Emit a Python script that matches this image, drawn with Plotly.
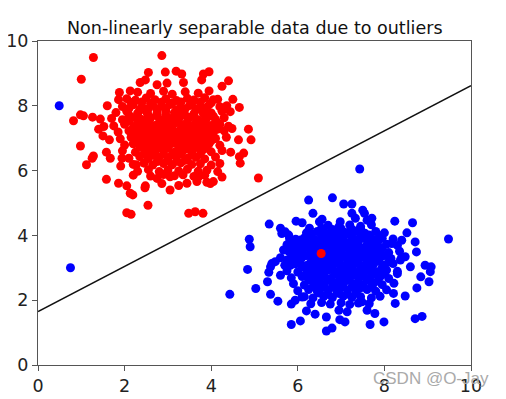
import plotly.graph_objects as go

# ---- data ----
red_edge = [
    (1.28, 9.49), (2.86, 9.55), (1.00, 8.82), (2.55, 9.03), (2.94, 9.04),
    (3.19, 9.07), (3.32, 8.98), (3.82, 8.98), (3.95, 9.05), (4.40, 8.77),
    (4.25, 8.60), (3.78, 8.80), (2.36, 8.72), (2.48, 8.80), (2.75, 8.65),
    (2.98, 8.70), (3.36, 8.72), (2.13, 8.46), (1.88, 8.41), (1.86, 8.19),
    (1.60, 8.00), (0.82, 7.54), (0.98, 7.72), (1.05, 7.69), (1.26, 7.65),
    (1.44, 7.59), (1.40, 7.28), (1.52, 7.36), (1.50, 7.07), (1.65, 6.95),
    (0.98, 6.76), (1.28, 6.45), (1.25, 6.38), (1.12, 6.18), (1.58, 5.73),
    (1.67, 6.38), (1.58, 6.57), (1.94, 6.38), (1.86, 5.61), (2.05, 5.53),
    (2.13, 5.30), (2.19, 5.25), (2.05, 4.70), (2.15, 4.65), (2.54, 4.93),
    (3.05, 5.40), (3.48, 4.68), (3.63, 4.73), (3.81, 4.68), (3.98, 5.60),
    (4.05, 5.66), (4.25, 5.80), (4.67, 6.23), (4.65, 6.43), (4.75, 6.54),
    (4.92, 6.95), (4.86, 7.28), (4.63, 6.95), (4.48, 7.30), (4.65, 7.95),
    (4.50, 8.20), (4.36, 8.00), (5.09, 5.77), (4.05, 8.19), (4.44, 7.82),
    (2.48, 5.53), (2.47, 5.47), (2.86, 5.60), (3.25, 5.54), (3.44, 5.61),
    (3.67, 5.66), (3.90, 5.64), (3.71, 5.81), (2.75, 5.76), (3.05, 5.81),
    (1.91, 6.14), (2.27, 6.18), (6.54, 3.44),
]
red_core = [
    (2.30, 8.42), (2.60, 8.38), (2.90, 8.45), (3.10, 8.36), (3.40, 8.43),
    (3.70, 8.39), (3.95, 8.46),
    (2.05, 8.22), (2.25, 8.17), (2.50, 8.24), (2.70, 8.19), (2.95, 8.21),
    (3.20, 8.16), (3.45, 8.23), (3.60, 8.18), (3.85, 8.25), (4.15, 8.20),
    (1.95, 7.98), (2.20, 8.03), (2.40, 7.97), (2.65, 8.02), (2.85, 7.99),
    (3.05, 8.04), (3.30, 7.96), (3.50, 8.01), (3.75, 7.98), (3.95, 8.03),
    (4.20, 7.97),
    (1.80, 7.79), (2.05, 7.83), (2.30, 7.77), (2.50, 7.82), (2.75, 7.78),
    (2.95, 7.84), (3.15, 7.79), (3.35, 7.82), (3.60, 7.76), (3.80, 7.81),
    (4.00, 7.78), (4.25, 7.83),
    (1.70, 7.61), (1.95, 7.57), (2.15, 7.63), (2.40, 7.58), (2.60, 7.62),
    (2.85, 7.56), (3.05, 7.61), (3.25, 7.59), (3.50, 7.64), (3.70, 7.57),
    (3.90, 7.62), (4.10, 7.58), (4.30, 7.63),
    (1.75, 7.38), (2.00, 7.43), (2.25, 7.37), (2.45, 7.42), (2.70, 7.39),
    (2.90, 7.44), (3.10, 7.38), (3.35, 7.41), (3.55, 7.36), (3.75, 7.42),
    (4.00, 7.39), (4.20, 7.43), (4.40, 7.37),
    (1.85, 7.19), (2.10, 7.23), (2.30, 7.17), (2.55, 7.22), (2.75, 7.18),
    (2.95, 7.24), (3.20, 7.19), (3.40, 7.21), (3.60, 7.16), (3.85, 7.22),
    (4.05, 7.18), (4.30, 7.23),
    (1.90, 6.98), (2.15, 7.03), (2.40, 6.97), (2.60, 7.02), (2.80, 6.99),
    (3.00, 7.04), (3.25, 6.98), (3.45, 7.01), (3.65, 6.96), (3.90, 7.02),
    (4.10, 6.99), (4.35, 7.03),
    (2.00, 6.79), (2.20, 6.83), (2.45, 6.77), (2.65, 6.82), (2.85, 6.78),
    (3.10, 6.84), (3.30, 6.79), (3.50, 6.81), (3.75, 6.77), (3.95, 6.83),
    (4.20, 6.78),
    (1.95, 6.61), (2.25, 6.57), (2.50, 6.62), (2.70, 6.58), (2.90, 6.63),
    (3.15, 6.57), (3.35, 6.61), (3.55, 6.59), (3.80, 6.63), (4.00, 6.58),
    (4.25, 6.62), (4.45, 6.57),
    (2.10, 6.38), (2.35, 6.43), (2.55, 6.37), (2.80, 6.42), (3.00, 6.39),
    (3.20, 6.44), (3.45, 6.38), (3.65, 6.41), (3.85, 6.36), (4.10, 6.42),
    (2.20, 6.19), (2.45, 6.23), (2.65, 6.17), (2.90, 6.22), (3.10, 6.18),
    (3.30, 6.24), (3.55, 6.19), (3.75, 6.21), (4.00, 6.17), (4.20, 6.22),
    (2.30, 5.98), (2.55, 6.03), (2.80, 5.97), (3.00, 6.02), (3.25, 5.99),
    (3.45, 6.04), (3.70, 5.98), (3.90, 6.01), (4.15, 5.97),
    (2.20, 5.86), (2.60, 5.83), (2.90, 5.88), (3.15, 5.84), (3.35, 5.87),
    (3.60, 5.82), (3.85, 5.86),
]
red_dense = [
    (2.15, 8.10), (2.40, 8.12), (2.60, 8.08), (2.85, 8.11), (3.10, 8.09),
    (3.30, 8.12), (3.55, 8.08), (3.75, 8.11), (4.00, 8.09),
    (2.10, 7.92), (2.35, 7.88), (2.55, 7.91), (2.75, 7.89),
    (2.95, 7.92), (3.20, 7.88), (3.40, 7.91), (3.65, 7.89), (3.85, 7.92),
    (2.10, 7.72), (2.30, 7.68), (2.55, 7.71), (2.75, 7.69),
    (2.95, 7.72), (3.20, 7.68), (3.40, 7.71), (3.60, 7.69), (3.85, 7.72),
    (4.05, 7.68),
    (2.10, 7.52), (2.30, 7.48), (2.55, 7.51), (2.80, 7.49),
    (3.00, 7.52), (3.20, 7.48), (3.45, 7.51), (3.65, 7.49), (3.85, 7.52),
    (4.10, 7.48),
    (2.20, 7.32), (2.40, 7.28), (2.60, 7.31), (2.85, 7.29),
    (3.05, 7.32), (3.30, 7.28), (3.50, 7.31), (3.70, 7.29), (3.90, 7.32),
    (4.15, 7.28),
    (2.25, 7.12), (2.45, 7.08), (2.65, 7.11), (2.90, 7.09),
    (3.10, 7.12), (3.30, 7.08), (3.55, 7.11), (3.75, 7.09), (3.95, 7.12),
    (2.30, 6.92), (2.50, 6.88), (2.70, 6.91), (2.95, 6.89),
    (3.15, 6.92), (3.35, 6.88), (3.55, 6.91), (3.80, 6.89), (4.00, 6.92),
    (2.35, 6.72), (2.60, 6.68), (2.80, 6.71), (3.00, 6.69),
    (3.25, 6.72), (3.45, 6.68), (3.65, 6.71), (3.90, 6.69),
    (2.45, 6.52), (2.65, 6.48), (2.90, 6.51), (3.10, 6.49),
    (3.30, 6.52), (3.55, 6.48), (3.75, 6.51),
    (2.75, 6.28), (3.00, 6.31), (3.20, 6.29), (3.40, 6.32),
]

blue_edge = [
    (0.49, 8.00), (0.75, 3.00),
    (7.43, 6.05), (6.25, 5.09), (6.80, 5.16), (7.06, 4.97), (7.25, 4.97),
    (7.50, 4.78), (7.54, 4.68), (7.71, 4.53), (7.60, 4.47), (6.35, 4.68),
    (6.56, 4.50), (6.50, 4.42), (7.25, 4.68), (7.33, 4.53), (6.98, 4.42),
    (8.24, 4.44), (8.65, 4.39), (5.34, 4.35), (5.96, 4.44), (6.10, 4.39),
    (6.27, 4.22), (5.60, 4.22), (5.71, 4.11), (5.81, 3.90), (8.52, 4.08),
    (8.40, 3.85), (8.17, 3.75), (8.71, 3.80), (8.74, 3.49), (9.48, 3.89),
    (4.88, 3.88), (4.90, 3.65), (5.40, 3.13), (4.84, 2.95), (5.33, 2.86),
    (5.37, 3.03), (5.71, 3.08), (5.75, 3.24), (5.67, 3.55), (5.87, 3.70),
    (6.06, 3.86), (6.20, 3.80), (4.43, 2.18), (5.03, 2.36), (5.30, 2.57),
    (5.37, 2.18), (5.54, 1.97), (5.85, 1.88), (6.06, 1.36), (5.85, 1.25),
    (6.20, 1.67), (6.40, 1.57), (6.66, 1.48), (6.66, 1.05), (6.79, 1.14),
    (6.97, 1.40), (7.09, 1.33), (7.67, 1.25), (7.99, 1.33), (7.78, 1.59),
    (8.71, 1.43), (8.87, 1.50), (8.48, 2.13), (8.75, 2.38), (8.21, 2.21),
    (8.84, 2.72), (9.03, 2.57), (8.94, 3.08), (9.08, 3.03), (9.06, 2.88),
    (8.60, 3.03), (8.37, 3.24), (8.48, 3.34), (8.30, 2.82), (8.22, 2.52),
    (8.25, 1.90), (7.60, 1.69), (7.48, 1.95), (7.14, 1.64), (6.95, 1.69),
    (6.10, 2.10), (5.94, 2.00), (5.60, 2.77), (5.48, 3.19), (5.83, 3.08),
    (5.98, 3.34), (5.90, 3.55), (5.63, 4.06), (5.79, 4.01),
]
blue_core = [
    (6.70, 4.31), (6.95, 4.27), (7.20, 4.32), (7.45, 4.28), (7.70, 4.33),
    (6.20, 4.08), (6.45, 4.12), (6.65, 4.07), (6.90, 4.11), (7.10, 4.09),
    (7.35, 4.13), (7.55, 4.07), (7.80, 4.12), (8.00, 4.08),
    (5.95, 3.88), (6.15, 3.92), (6.40, 3.87), (6.60, 3.91), (6.85, 3.89),
    (7.05, 3.93), (7.30, 3.88), (7.50, 3.92), (7.75, 3.87), (7.95, 3.91),
    (8.20, 3.89),
    (5.75, 3.71), (6.00, 3.67), (6.25, 3.72), (6.45, 3.68), (6.70, 3.73),
    (6.90, 3.69), (7.15, 3.71), (7.35, 3.67), (7.60, 3.72), (7.80, 3.68),
    (8.05, 3.73), (8.30, 3.69),
    (5.80, 3.49), (6.05, 3.53), (6.30, 3.48), (6.50, 3.52), (6.75, 3.47),
    (6.95, 3.51), (7.20, 3.49), (7.40, 3.53), (7.65, 3.48), (7.85, 3.52),
    (8.10, 3.47), (8.35, 3.51),
    (5.60, 3.31), (5.85, 3.28), (6.10, 3.32), (6.35, 3.27), (6.55, 3.31),
    (6.80, 3.29), (7.00, 3.33), (7.25, 3.28), (7.45, 3.32), (7.70, 3.27),
    (7.90, 3.31), (8.15, 3.29), (8.40, 3.33),
    (5.70, 3.08), (5.95, 3.12), (6.20, 3.07), (6.40, 3.11), (6.65, 3.09),
    (6.85, 3.13), (7.10, 3.08), (7.30, 3.12), (7.55, 3.07), (7.75, 3.11),
    (8.00, 3.09), (8.20, 3.13),
    (5.75, 2.91), (6.00, 2.87), (6.25, 2.92), (6.50, 2.88), (6.70, 2.93),
    (6.95, 2.89), (7.15, 2.91), (7.40, 2.87), (7.60, 2.92), (7.85, 2.88),
    (8.05, 2.93), (8.30, 2.89),
    (5.85, 2.69), (6.10, 2.73), (6.30, 2.68), (6.55, 2.72), (6.75, 2.67),
    (7.00, 2.71), (7.20, 2.69), (7.45, 2.73), (7.65, 2.68), (7.90, 2.72),
    (8.10, 2.67),
    (5.90, 2.51), (6.15, 2.47), (6.40, 2.52), (6.60, 2.48), (6.85, 2.53),
    (7.05, 2.49), (7.30, 2.51), (7.50, 2.47), (7.75, 2.52), (7.95, 2.48),
    (6.00, 2.29), (6.25, 2.33), (6.45, 2.28), (6.70, 2.32), (6.90, 2.27),
    (7.15, 2.31), (7.35, 2.29), (7.60, 2.33), (7.80, 2.28), (8.05, 2.32),
    (6.15, 2.11), (6.35, 2.07), (6.60, 2.12), (6.80, 2.08), (7.05, 2.13),
    (7.25, 2.09), (7.45, 2.11), (7.70, 2.07), (7.90, 2.12),
    (6.30, 1.89), (6.55, 1.93), (6.75, 1.88), (7.00, 1.92), (7.20, 1.87),
    (7.40, 1.91), (7.65, 1.89),
]
blue_dense = [
    (6.55, 4.22), (6.80, 4.18), (7.00, 4.21), (7.25, 4.19), (7.45, 4.22),
    (6.30, 4.02), (6.55, 3.98), (6.75, 4.01), (7.00, 3.99),
    (7.20, 4.02), (7.45, 3.98), (7.65, 4.01), (7.90, 3.99),
    (6.10, 3.82), (6.35, 3.78), (6.55, 3.81), (6.75, 3.79),
    (7.00, 3.82), (7.20, 3.78), (7.40, 3.81), (7.65, 3.79), (7.85, 3.82),
    (6.15, 3.62), (6.35, 3.58), (6.60, 3.61), (6.80, 3.59),
    (7.05, 3.62), (7.25, 3.58), (7.50, 3.61), (7.70, 3.59), (7.95, 3.62),
    (5.95, 3.42), (6.20, 3.38), (6.40, 3.41), (6.65, 3.39),
    (6.85, 3.42), (7.10, 3.38), (7.30, 3.41), (7.55, 3.39), (7.80, 3.42),
    (8.00, 3.38),
    (6.05, 3.22), (6.30, 3.18), (6.50, 3.21), (6.70, 3.19),
    (6.95, 3.22), (7.15, 3.18), (7.40, 3.21), (7.60, 3.19), (7.85, 3.22),
    (8.10, 3.18),
    (6.10, 3.02), (6.35, 2.98), (6.55, 3.01), (6.80, 2.99),
    (7.00, 3.02), (7.25, 2.98), (7.45, 3.01), (7.70, 2.99), (7.95, 3.02),
    (6.20, 2.82), (6.40, 2.78), (6.60, 2.81), (6.85, 2.79),
    (7.05, 2.82), (7.30, 2.78), (7.50, 2.81), (7.75, 2.79), (8.00, 2.82),
    (6.25, 2.62), (6.50, 2.58), (6.70, 2.61), (6.95, 2.59),
    (7.15, 2.62), (7.40, 2.58), (7.60, 2.61), (7.85, 2.59),
    (6.35, 2.42), (6.55, 2.38), (6.80, 2.41), (7.00, 2.39),
    (7.25, 2.42), (7.45, 2.38), (7.70, 2.41),
    (6.50, 2.22), (6.70, 2.18), (6.95, 2.21), (7.15, 2.19), (7.35, 2.22),
]

line_x = [0, 10]
line_y = [1.65, 8.62]

title_text = "Non-linearly separable data due to outliers"
tick_vals = [0, 2, 4, 6, 8, 10]
watermark = "CSDN @O-Jay"

red_pts = red_core + red_dense + red_edge
blue_pts = blue_core + blue_dense + blue_edge

fig = go.Figure()
fig.add_trace(go.Scatter(
    x=[p[0] for p in blue_pts], y=[p[1] for p in blue_pts], mode="markers",
    marker=dict(color="#0000ff", size=9, line=dict(width=0)), hoverinfo="skip"))
fig.add_trace(go.Scatter(
    x=[p[0] for p in red_pts], y=[p[1] for p in red_pts], mode="markers",
    marker=dict(color="#ff0000", size=9, line=dict(width=0)), hoverinfo="skip"))
fig.add_trace(go.Scatter(
    x=line_x, y=line_y, mode="lines",
    line=dict(color="#111111", width=1.6), hoverinfo="skip"))

axis_common = dict(
    range=[0, 10], tickvals=tick_vals, showgrid=False, zeroline=False,
    showline=True, mirror=True, linecolor="#555555", linewidth=1,
    ticks="outside", ticklen=5, tickcolor="#555555", tickwidth=1,
    automargin=False,
    tickfont=dict(family="DejaVu Sans", size=17.5, color="#222222"),
)
fig.update_xaxes(**axis_common)
fig.update_yaxes(**axis_common)

fig.add_annotation(
    text=title_text, xref="paper", yref="paper", x=0.5, y=1.0,
    xanchor="center", yanchor="bottom", yshift=1, showarrow=False,
    font=dict(family="DejaVu Sans", size=17.5, color="#111111"))
fig.add_annotation(
    text=watermark, xref="paper", yref="paper", x=0.908, y=-0.043,
    xanchor="center", yanchor="middle", showarrow=False,
    font=dict(family="Liberation Sans", size=17, color="#aaaaaa"))

# page body adds an 8px offset, so the figure is drawn 8px smaller
fig.update_layout(
    width=498, height=391, showlegend=False,
    margin=dict(l=30, r=35, t=33, b=34),
    paper_bgcolor="white", plot_bgcolor="white",
)
fig.write_html("out.html")
